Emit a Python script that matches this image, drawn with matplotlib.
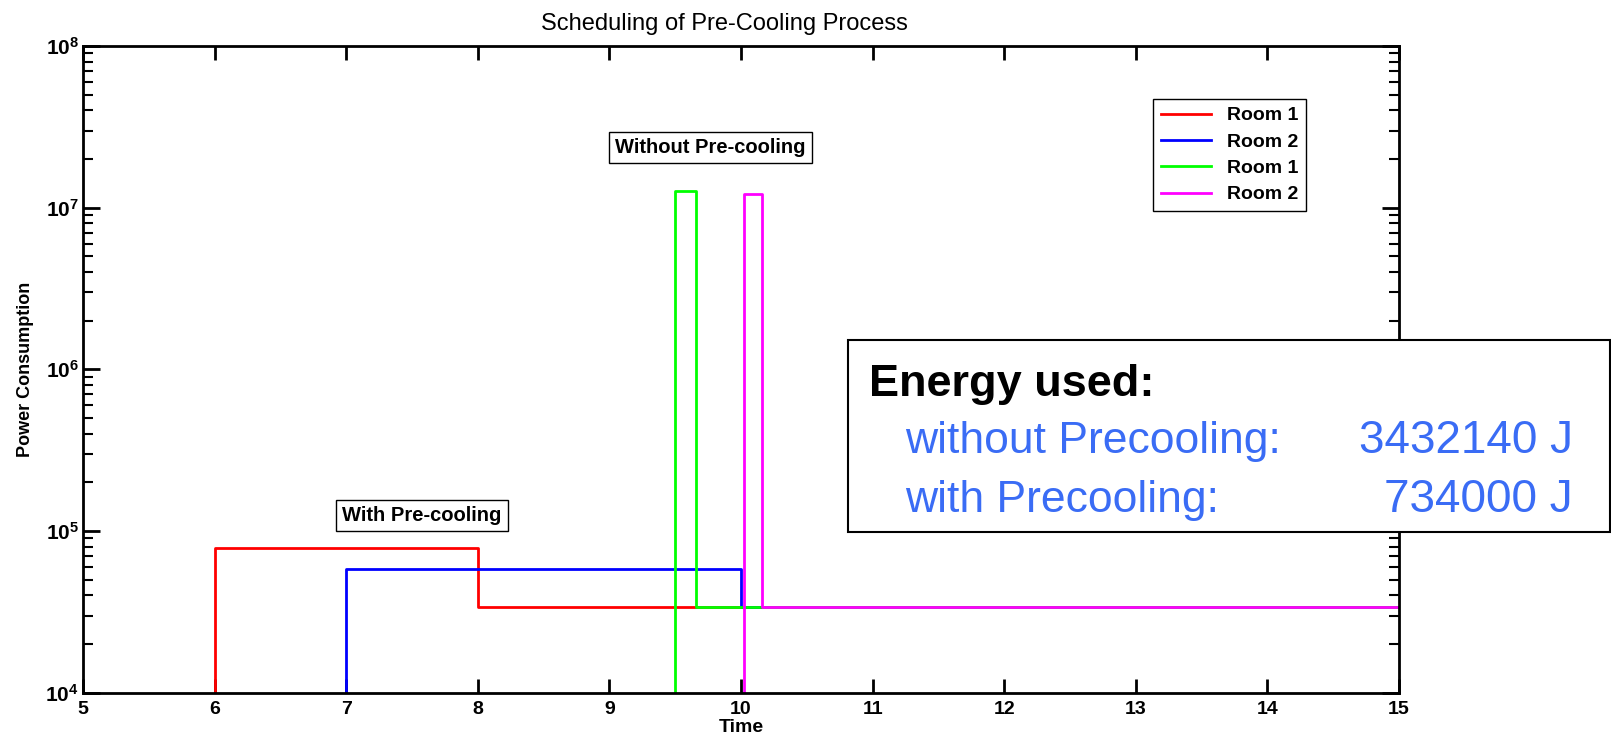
import numpy as np
import matplotlib
matplotlib.use("Agg")
import matplotlib.pyplot as plt
from matplotlib.patches import Rectangle
from matplotlib.ticker import LogLocator, NullFormatter

plt.rcParams['font.family'] = ['Liberation Sans', 'DejaVu Sans']
plt.rcParams['mathtext.fontset'] = 'custom'
plt.rcParams['mathtext.bf'] = 'Liberation Sans:bold'
plt.rcParams['mathtext.rm'] = 'Liberation Sans:bold'

# step profiles (time in h, power); 1e3 = "off", below the visible axis
room1_pre_t = [5, 6, 8, 15]
room1_pre_p = [1e3, 7.8e4, 3.39e4, 3.39e4]
room2_pre_t = [5, 7, 10, 15]
room2_pre_p = [1e3, 5.8e4, 3.39e4, 3.39e4]
room1_nopre_t = [5, 9.5, 9.66, 15]
room1_nopre_p = [1e3, 1.26e7, 3.39e4, 3.39e4]
room2_nopre_t = [5, 10.02, 10.16, 15]
room2_nopre_p = [1e3, 1.21e7, 3.39e4, 3.39e4]

labels = ["Room 1", "Room 2", "Room 1", "Room 2"]
colors = ["#ff0000", "#0000ff", "#00ff00", "#ff00ff"]

energy_without = 3432140
energy_with = 734000

fig = plt.figure(figsize=(16.11, 7.37), dpi=100)
ax = fig.add_axes([0.0515, 0.0601, 0.8169, 0.8775])

series = [(room1_pre_t, room1_pre_p), (room2_pre_t, room2_pre_p),
          (room1_nopre_t, room1_nopre_p), (room2_nopre_t, room2_nopre_p)]
for (t, p), c, lab in zip(series, colors, labels):
    ax.plot(t, p, drawstyle='steps-post', color=c, lw=2, label=lab)

ax.set_yscale('log')
ax.set_xlim(5, 15)
ax.set_ylim(1e4, 1e8)
ax.set_xticks(np.arange(5, 16, 1))
ax.set_xticklabels([str(v) for v in range(5, 16)], fontsize=14, fontweight='bold')
ax.set_yticks([1e4, 1e5, 1e6, 1e7, 1e8])
ax.set_yticklabels([r'$\mathbf{10^{%d}}$' % e for e in range(4, 9)], fontsize=15)
ax.yaxis.set_minor_locator(LogLocator(base=10, subs=np.arange(2, 10), numticks=20))
ax.yaxis.set_minor_formatter(NullFormatter())
ax.tick_params(which='major', direction='in', length=12, width=2, top=True, right=True, pad=4)
ax.tick_params(which='minor', direction='in', length=7, width=1.5, top=True, right=True)
ax.tick_params(axis='x', which='major', length=10, pad=6)
ax.tick_params(axis='y', which='major', pad=3)
for s in ax.spines.values():
    s.set_linewidth(2)

ax.set_xlabel("Time", fontsize=14, fontweight='bold', labelpad=1)
ax.set_ylabel("Power Consumption", fontsize=13, fontweight='bold', labelpad=8)
fig.text(0.4494, 0.959, "Scheduling of Pre-Cooling Process", fontsize=17,
         ha='center', va='baseline')

box = dict(boxstyle='square,pad=0.3', facecolor='white', edgecolor='black', lw=1)
ax.text(9.77, 2.37e7, "Without Pre-cooling", fontsize=14.5, fontweight='bold',
        ha='center', va='center', bbox=box)
ax.text(7.576, 1.25e5, "With Pre-cooling", fontsize=14.5, fontweight='bold',
        ha='center', va='center', bbox=box)

leg = ax.legend(loc='upper left', bbox_to_anchor=(0.7157, 0.8657), bbox_transform=fig.transFigure,
                fancybox=False, edgecolor='black', framealpha=1, borderaxespad=0,
                handlelength=2.6, labelspacing=0.45, prop={'size': 14, 'weight': 'bold'})
leg.get_frame().set_linewidth(1)

# energy summary box, partly outside the axes
fig.patches.append(Rectangle((0.5264, 0.2782), 0.4730, 0.2605, transform=fig.transFigure,
                             facecolor='white', edgecolor='black', lw=1.5, zorder=5))
fig.text(0.5394, 0.4627, "Energy used:", fontsize=32.5, fontweight='bold',
         va='baseline', zorder=6)
blue = '#3a6cf5'
fig.text(0.5618, 0.3853, "without Precooling:", fontsize=32, color=blue, va='baseline', zorder=6)
fig.text(0.5618, 0.3053, "with Precooling:", fontsize=32, color=blue, va='baseline', zorder=6)
fig.text(0.9764, 0.3853, f"{energy_without} J", fontsize=33, color=blue, ha='right',
         va='baseline', zorder=6)
fig.text(0.9764, 0.3053, f"{energy_with} J", fontsize=33, color=blue, ha='right',
         va='baseline', zorder=6)

fig.savefig("out.png", dpi=100)
